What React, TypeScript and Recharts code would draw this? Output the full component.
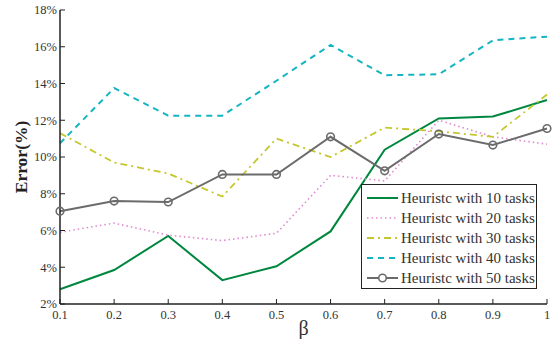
import React from 'react'
import { LineChart, Line, XAxis, YAxis, Label } from 'recharts'

const betas = [0.1, 0.2, 0.3, 0.4, 0.5, 0.6, 0.7, 0.8, 0.9, 1]
const tasks10 = [2.8, 3.85, 5.7, 3.3, 4.05, 5.95, 10.4, 12.1, 12.2, 13.1]
const tasks20 = [5.9, 6.4, 5.75, 5.45, 5.85, 9.0, 8.7, 12.0, 11.1, 10.7]
const tasks30 = [11.3, 9.7, 9.1, 7.85, 11.0, 10.0, 11.6, 11.4, 11.1, 13.4]
const tasks40 = [10.75, 13.75, 12.25, 12.25, 14.15, 16.1, 14.45, 14.5, 16.35, 16.55]
const tasks50 = [7.05, 7.6, 7.55, 9.05, 9.05, 11.1, 9.25, 11.25, 10.65, 11.55]
const yTicks = [2, 4, 6, 8, 10, 12, 14, 16, 18]

const data = betas.map((b, i) => ({
  beta: b,
  t10: tasks10[i],
  t20: tasks20[i],
  t30: tasks30[i],
  t40: tasks40[i],
  t50: tasks50[i],
}))

const series = [
  { key: 't10', name: 'Heuristc with 10 tasks', color: '#00873f', width: 2, dash: undefined, dot: false },
  { key: 't20', name: 'Heuristc with 20 tasks', color: '#e08ad0', width: 1.6, dash: '1.5 3', dot: false },
  { key: 't30', name: 'Heuristc with 30 tasks', color: '#c5c72e', width: 1.8, dash: '7 4 2 4', dot: false },
  { key: 't40', name: 'Heuristc with 40 tasks', color: '#14b5c2', width: 2, dash: '6 5', dot: false },
  { key: 't50', name: 'Heuristc with 50 tasks', color: '#6b6b6b', width: 2, dash: undefined, dot: true },
]

const FONT = '"Liberation Serif", "DejaVu Serif", serif'
const AXIS = '#222'
const tickStyle = { fontSize: 12.5, fill: '#333', fontFamily: FONT }

// legend drawn outside recharts so it doesn't eat plot space
function LegendBox() {
  return (
    <div style={{
      position: 'absolute', left: 361, top: 184, boxSizing: 'border-box',
      border: `1.5px solid ${AXIS}`, background: '#fff', width: 176, height: 105,
      padding: '3px 0 0 4px', fontFamily: FONT, fontSize: 15, color: '#333',
    }}>
      {series.map(s => (
        <div key={s.key} style={{ display: 'flex', alignItems: 'center', height: 20 }}>
          <svg width={33} height={12} style={{ marginRight: 2, flexShrink: 0 }}>
            <line x1={1} x2={32} y1={6} y2={6} stroke={s.color} strokeWidth={s.width}
              strokeDasharray={s.dash} />
            {s.dot && <circle cx={16.5} cy={6} r={3.8} fill="#fff" stroke={s.color} strokeWidth={1.6} />}
          </svg>
          <span style={{ whiteSpace: 'nowrap' }}>{s.name}</span>
        </div>
      ))}
    </div>
  )
}

export default function App() {
  return (
    <div style={{ position: 'absolute', left: 0, top: 0, width: 558, height: 339, background: '#fff' }}>
      <LineChart width={558} height={339} data={data} margin={{ top: 10, right: 11, bottom: 0, left: 0 }}>
        <XAxis dataKey="beta" type="number" domain={[0.1, 1]} ticks={betas}
          tickFormatter={(v: number) => String(v)} tick={tickStyle}
          height={35} tickSize={-5} tickMargin={11}
          axisLine={{ stroke: AXIS, strokeWidth: 1.5 }} tickLine={{ stroke: AXIS }}>
          <Label content={(p: any) => {
            const vb = p.viewBox
            return (
              <text x={vb.x + vb.width / 2} y={vb.y + 31} textAnchor="middle"
                fontFamily={FONT} fontSize={20} fill="#333">β</text>
            )
          }} />
        </XAxis>
        <XAxis xAxisId="top" orientation="top" dataKey="beta" type="number" domain={[0.1, 1]}
          ticks={betas} tick={false} height={0} tickSize={-5}
          axisLine={{ stroke: AXIS, strokeWidth: 1.5 }} tickLine={{ stroke: AXIS }} />
        <YAxis type="number" domain={[2, 18]} ticks={yTicks} width={60}
          tickFormatter={(v: number) => `${v}%`} tick={tickStyle}
          tickSize={-5} tickMargin={8}
          axisLine={{ stroke: AXIS, strokeWidth: 1.5 }} tickLine={{ stroke: AXIS }}>
          <Label content={(p: any) => {
            const vb = p.viewBox
            const cx = 21
            const cy = vb.y + vb.height / 2
            return (
              <text x={cx} y={cy} textAnchor="middle" dominantBaseline="central"
                transform={`rotate(-90 ${cx} ${cy})`}
                fontFamily={FONT} fontSize={17.5} fontWeight="bold" fill="#222">Error(%)</text>
            )
          }} />
        </YAxis>
        <YAxis yAxisId="right" orientation="right" type="number" domain={[2, 18]} ticks={yTicks}
          tick={false} width={0} tickSize={-5}
          axisLine={{ stroke: AXIS, strokeWidth: 1.5 }} tickLine={{ stroke: AXIS }} />
        {series.map(s => (
          <Line key={s.key} dataKey={s.key} name={s.name} type="linear"
            stroke={s.color} strokeWidth={s.width} strokeDasharray={s.dash}
            dot={s.dot ? { r: 3.8, fill: 'none', stroke: s.color, strokeWidth: 1.6 } : false}
            activeDot={false} isAnimationActive={false} />
        ))}
      </LineChart>
      <LegendBox />
    </div>
  )
}
